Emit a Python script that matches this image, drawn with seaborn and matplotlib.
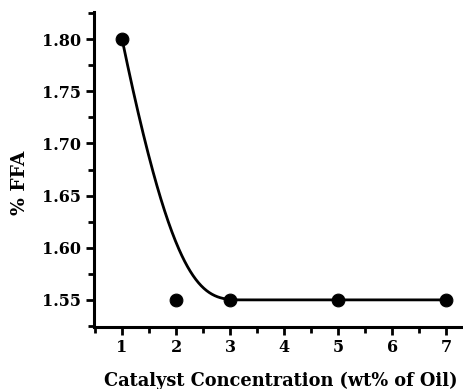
import numpy as np
import matplotlib
matplotlib.use("Agg")
import matplotlib.pyplot as plt
from matplotlib.ticker import MultipleLocator, FormatStrFormatter
import seaborn as sns

catalyst = [1, 2, 3, 5, 7]
ffa = [1.80, 1.55, 1.55, 1.55, 1.55]


def bspline(px, py, degree=3, n=400):
    px = np.asarray(px, float)
    py = np.asarray(py, float)
    m = len(px)
    k = degree
    inner = np.linspace(0, 1, m - k + 1)
    knots = np.concatenate([np.zeros(k), inner, np.ones(k)])
    u = np.linspace(0, 1, n)
    u[-1] = 1 - 1e-12
    N = np.zeros((n, len(knots) - 1))
    for i in range(len(knots) - 1):
        N[:, i] = (u >= knots[i]) & (u < knots[i + 1])
    for d in range(1, k + 1):
        Nn = np.zeros((n, len(knots) - 1 - d))
        for i in range(len(knots) - 1 - d):
            a = knots[i + d] - knots[i]
            b = knots[i + d + 1] - knots[i + 1]
            t1 = (u - knots[i]) / a * N[:, i] if a > 0 else 0
            t2 = (knots[i + d + 1] - u) / b * N[:, i + 1] if b > 0 else 0
            Nn[:, i] = t1 + t2
        N = Nn
    return N @ px, N @ py


cx, cy = bspline(catalyst, ffa)

sns.set_style("ticks")
plt.rcParams['font.family'] = ['DejaVu Serif']
plt.rcParams['font.weight'] = 'bold'
for key in ['text.color', 'axes.labelcolor', 'xtick.color', 'ytick.color', 'axes.edgecolor']:
    plt.rcParams[key] = 'black'

fig = plt.figure(figsize=(4.64, 3.89), dpi=100)
left = 94 / 464
bottom = (389 - 327) / 389
top = (389 - 12) / 389
xmin, xmax = 0.48, 7.4
width = (xmax - xmin) * 54 / 464
ax = fig.add_axes([left, bottom, width, top - bottom])

sns.lineplot(x=cx, y=cy, sort=False, estimator=None, color='black', linewidth=2.0, ax=ax)
sns.scatterplot(x=catalyst, y=ffa, color='black', s=85, edgecolor='black', zorder=5, ax=ax)

ax.set_xlim(xmin, xmax)
ax.set_ylim(1.524, 1.826)
ax.xaxis.set_major_locator(MultipleLocator(1))
ax.xaxis.set_minor_locator(MultipleLocator(0.5))
ax.yaxis.set_major_locator(MultipleLocator(0.05))
ax.yaxis.set_minor_locator(MultipleLocator(0.025))
ax.yaxis.set_major_formatter(FormatStrFormatter('%.2f'))
ax.set_xticks([1, 2, 3, 4, 5, 6, 7])

sns.despine(ax=ax)
for s in ['left', 'bottom']:
    ax.spines[s].set_linewidth(2.2)
    ax.spines[s].set_color('black')
ax.tick_params(which='major', length=6, width=2, direction='out', labelsize=11.5, pad=3, colors='black')
ax.tick_params(which='minor', length=4, width=2, direction='out', colors='black')
for lab in ax.get_xticklabels() + ax.get_yticklabels():
    lab.set_fontweight('bold')

ax.set_xlabel('Catalyst Concentration (wt% of Oil)', fontsize=12.8, fontweight='bold', color='black')
ax.set_ylabel('% FFA', fontsize=13.5, fontweight='bold', color='black')
ax.xaxis.set_label_coords((281 - 94) / (width * 464), -(381 - 327) / (327 - 12), transform=ax.transAxes)
ax.yaxis.set_label_coords(-(94 - 20) / (width * 464), (327 - 183) / (327 - 12), transform=ax.transAxes)
ax.xaxis.label.set_va('center')
ax.yaxis.label.set_va('center')

fig.savefig('out.png', dpi=100)
